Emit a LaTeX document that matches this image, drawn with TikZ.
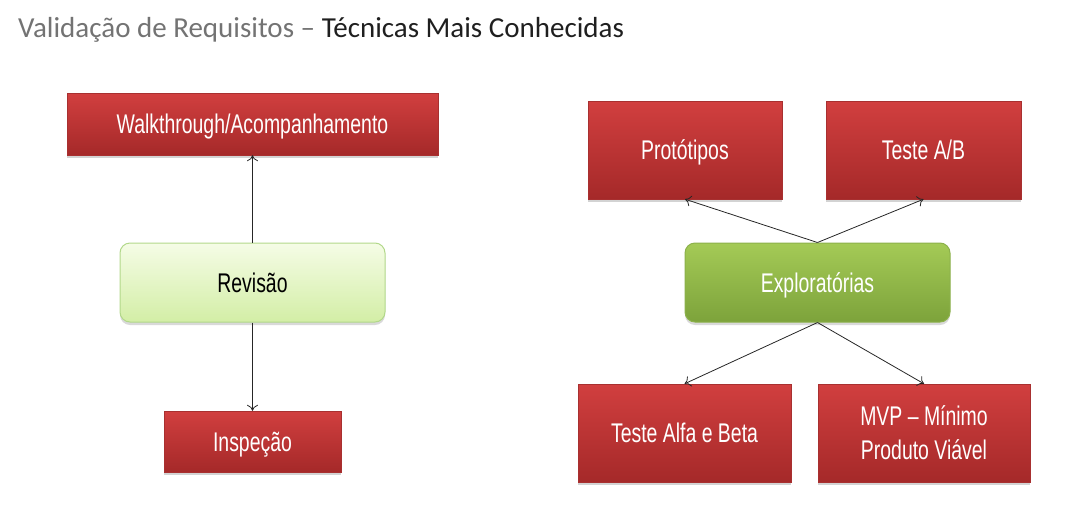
\documentclass[tikz,border=0pt]{standalone}
\usepackage{fontspec}
\setmainfont{Carlito}
\newfontfamily\boxfont[FakeStretch=0.72]{Liberation Sans}
\usetikzlibrary{arrows.meta,shadows}
\definecolor{redtop}{HTML}{D13F3F}
\definecolor{redbot}{HTML}{A52929}
\definecolor{redline}{HTML}{A83030}
\definecolor{lgtop}{HTML}{F5FCE6}
\definecolor{lgbot}{HTML}{D3EEA6}
\definecolor{lgline}{HTML}{B2D88A}
\definecolor{dgtop}{HTML}{A4CA56}
\definecolor{dgbot}{HTML}{7DA33B}
\definecolor{dgline}{HTML}{8CB14B}
\tikzset{
  lbl/.style={font=\boxfont\fontsize{27}{34}\selectfont, align=center, inner sep=0pt},
  oneline/.style={text height=19pt, text depth=0pt},
  redbox/.style={lbl, rectangle, draw=redline, line width=0.4pt, shading=axis, top color=redtop, bottom color=redbot, text=white,
    drop shadow={shadow xshift=0pt, shadow yshift=-3pt, opacity=0.35}},
  lgbox/.style={lbl, rectangle, rounded corners=10pt, draw=lgline, line width=1pt, shading=axis, top color=lgtop, bottom color=lgbot, text=black,
    drop shadow={shadow xshift=0pt, shadow yshift=-3pt, opacity=0.3}},
  dgbox/.style={lbl, rectangle, rounded corners=10pt, draw=dgline, line width=1pt, shading=axis, top color=dgtop, bottom color=dgbot, text=white,
    drop shadow={shadow xshift=0pt, shadow yshift=-3pt, opacity=0.3}},
  conn/.style={line width=0.8pt, draw=black!85, -{To[length=6pt,width=11pt]}}
}
\begin{document}
\begin{tikzpicture}[x=1pt,y=-1pt]
\useasboundingbox (0,0) rectangle (1068,517);
\node[anchor=base west, inner sep=0pt, font=\fontsize{29}{32}\selectfont] (title) at (18,37)
  {\textcolor{black!55}{Validação de Requisitos –} \textcolor{black!88}{Técnicas Mais Conhecidas}};
% left
\node[redbox, oneline, minimum width=371pt, minimum height=62pt] (walk) at (252.5,124) {Walkthrough/Acompanhamento};
\node[lgbox, oneline, minimum width=265pt, minimum height=79pt] (rev) at (252.5,282.5) {Revisão};
\node[redbox, oneline, minimum width=177pt, minimum height=61pt] (insp) at (252.5,441.5) {Inspeção};
% right
\node[redbox, oneline, minimum width=194pt, minimum height=98pt] (prot) at (685,150) {Protótipos};
\node[redbox, oneline, minimum width=195pt, minimum height=98pt] (ab) at (923.5,150) {Teste A/B};
\node[dgbox, oneline, minimum width=265pt, minimum height=79pt] (exp) at (817.5,282.5) {Exploratórias};
\node[redbox, oneline, minimum width=213pt, minimum height=98pt] (alfa) at (684.5,433) {Teste Alfa e Beta};
\node[redbox, minimum width=212pt, minimum height=98pt] (mvp) at (924,433) {MVP – Mínimo\\Produto Viável};
% connectors
\draw[conn] (rev.north) -- (walk.south);
\draw[conn] (rev.south) -- (insp.north);
\draw[conn] (exp.north) -- (prot.south);
\draw[conn] (exp.north) -- (ab.south);
\draw[conn] (exp.south) -- (alfa.north);
\draw[conn] (exp.south) -- (mvp.north);
\end{tikzpicture}
\end{document}
